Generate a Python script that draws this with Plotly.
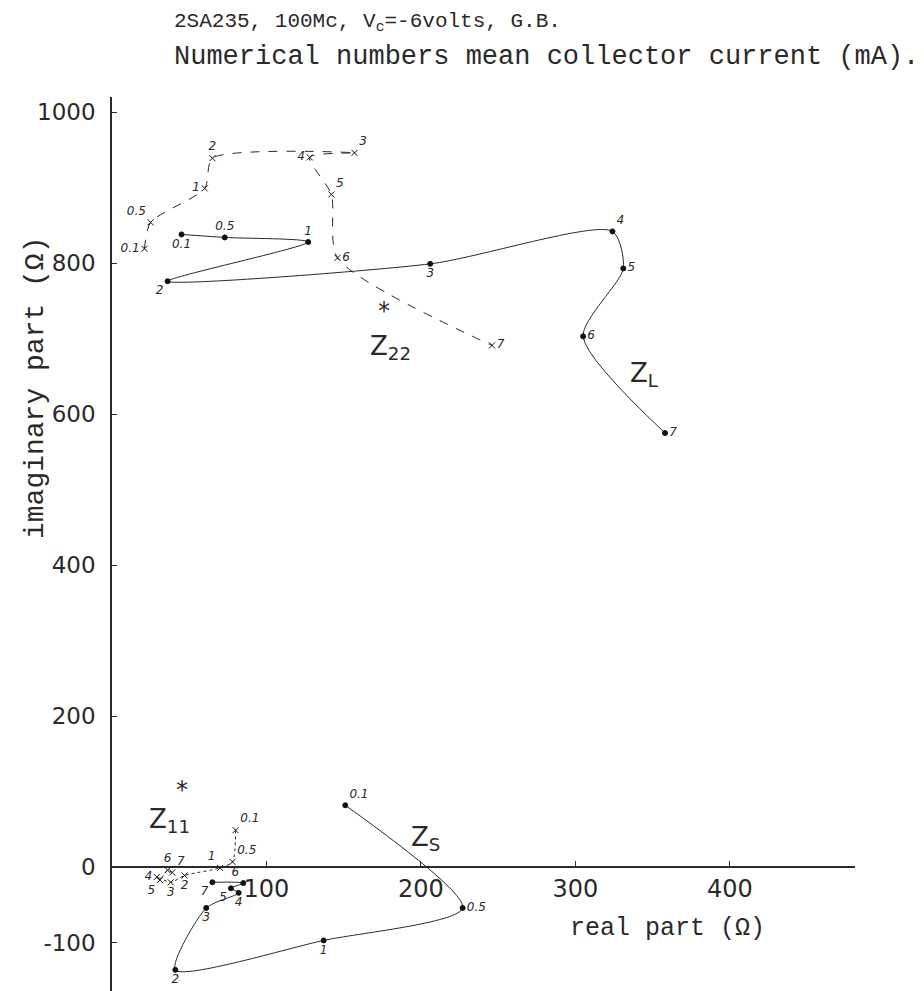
import plotly.graph_objects as go

# Collector current labels (mA)
currents = ["0.1", "0.5", "1", "2", "3", "4", "5", "6", "7"]

# Z_L (solid line, filled dots)
zl_re = [45, 73, 127, 36, 206, 324, 331, 305, 358]
zl_im = [838, 834, 828, 776, 799, 842, 793, 703, 575]

# Z*_22 (dashed line, x markers)
z22_re = [21, 25, 60, 65, 157, 128, 142, 146, 246]
z22_im = [819, 854, 899, 939, 946, 940, 891, 807, 691]

# Z*_11 (dotted line, x markers)
z11_re = [80, 78, 70, 47, 38, 29, 31, 36, 39]
z11_im = [49, 7, -1, -11, -20, -13, -17, -4, -7]

# Z_S (solid line, filled dots)
zs_re = [151, 227, 137, 41, 61, 82, 77, 85, 65]
zs_im = [82, -54, -97, -136, -54, -34, -28, -21, -20]

x_ticks = [100, 200, 300, 400]
y_ticks = [-100, 0, 200, 400, 600, 800, 1000]

X_RANGE = [0, 481]
Y_RANGE = [-164, 1020]

INK = "#2a2a2a"
MONO = "Liberation Mono"
SANS = "DejaVu Sans"

zl_pos = ["bottom center", "top center", "top center", "bottom left", "bottom center",
          "top right", "middle right", "middle right", "middle right"]
z22_pos = ["middle left", "top left", "middle left", "top center", "top right",
           "middle left", "top right", "middle right", "middle right"]
z11_pos = ["top right", "top right", "top left", "bottom center", "bottom center",
           "middle left", "bottom left", "top center", "top right"]
zs_pos = ["top right", "middle right", "bottom center", "bottom center", "bottom center",
          "bottom center", "bottom left", "top left", "bottom left"]

lab_font = dict(family=SANS, size=12, color=INK, style="italic")

fig = go.Figure()

def add_curve(xs, ys, pos, dash, symbol, msize):
    fig.add_trace(go.Scatter(
        x=xs, y=ys, mode="lines+markers+text", text=currents, textposition=pos,
        textfont=lab_font,
        line=dict(color=INK, width=1, dash=dash, shape="spline", smoothing=0.7),
        marker=dict(symbol=symbol, size=msize, color="#111",
                    line=dict(color="#111", width=1)),
        showlegend=False, hoverinfo="skip"))

add_curve(zl_re, zl_im, zl_pos, "solid", "circle", 5)
add_curve(z22_re, z22_im, z22_pos, "dash", "x-thin", 6)
add_curve(z11_re, z11_im, z11_pos, "dot", "x-thin", 6)
add_curve(zs_re, zs_im, zs_pos, "solid", "circle", 5)

x_pos = (0 - Y_RANGE[0]) / (Y_RANGE[1] - Y_RANGE[0])

fig.update_layout(
    width=924, height=991,
    margin=dict(l=112, r=69, t=97, b=0),
    paper_bgcolor="white", plot_bgcolor="white",
    xaxis=dict(range=X_RANGE, tickvals=x_ticks, ticktext=[str(v) for v in x_ticks],
               showgrid=False, zeroline=False, showline=True, linecolor=INK, linewidth=1.5,
               ticks="inside", ticklen=5, tickcolor=INK,
               anchor="free", position=x_pos,
               tickfont=dict(family=SANS, size=24, color=INK)),
    yaxis=dict(range=Y_RANGE, tickvals=y_ticks, ticktext=[str(v) for v in y_ticks],
               showgrid=False, zeroline=False, showline=True, linecolor=INK, linewidth=1.5,
               ticks="inside", ticklen=5, tickcolor=INK, ticklabelstandoff=10,
               tickfont=dict(family=SANS, size=23, color=INK)),
)

ann = []
# Titles (typewriter)
ann.append(dict(xref="paper", yref="paper", x=(172 - 112) / 743, y=(991 - 22) / 894,
                xanchor="left", yanchor="middle", showarrow=False,
                text="2SA235, 100Mc, V<sub>c</sub>=-6volts, G.B.",
                font=dict(family=MONO, size=21, color=INK)))
ann.append(dict(xref="paper", yref="paper", x=(172 - 112) / 743, y=(991 - 57) / 894,
                xanchor="left", yanchor="middle", showarrow=False,
                text="Numerical numbers mean collector current (mA).",
                font=dict(family=MONO, size=27, color=INK)))
# Axis titles
ann.append(dict(xref="paper", yref="paper", x=(35 - 112) / 743, y=(991 - 388) / 894,
                xanchor="center", yanchor="middle", showarrow=False, textangle=-90,
                text="imaginary part (Ω)", font=dict(family=MONO, size=28, color=INK)))
ann.append(dict(xref="x", yref="y", x=(568 - 112) / 1.545, y=(867 - 928) / 0.755,
                xanchor="left", yanchor="middle", showarrow=False,
                text="real part (Ω)", font=dict(family=MONO, size=25, color=INK)))

zfont = dict(family=SANS, size=26, color=INK)
# Curve names
ann.append(dict(x=180, y=688, xref="x", yref="y", showarrow=False,
                text="Z<sub>22</sub>", font=zfont))
ann.append(dict(x=176, y=736, xref="x", yref="y", showarrow=False,
                text="*", font=dict(family=SANS, size=24, color=INK)))
ann.append(dict(x=345, y=652, xref="x", yref="y", showarrow=False,
                text="Z<sub>L</sub>", font=zfont))
ann.append(dict(x=203, y=38, xref="x", yref="y", showarrow=False,
                text="Z<sub>S</sub>", font=zfont))
ann.append(dict(x=37, y=62, xref="x", yref="y", showarrow=False,
                text="Z<sub>11</sub>", font=zfont))
ann.append(dict(x=45, y=102, xref="x", yref="y", showarrow=False,
                text="*", font=dict(family=SANS, size=24, color=INK)))

fig.update_layout(annotations=ann)
fig.write_html("out.html")
